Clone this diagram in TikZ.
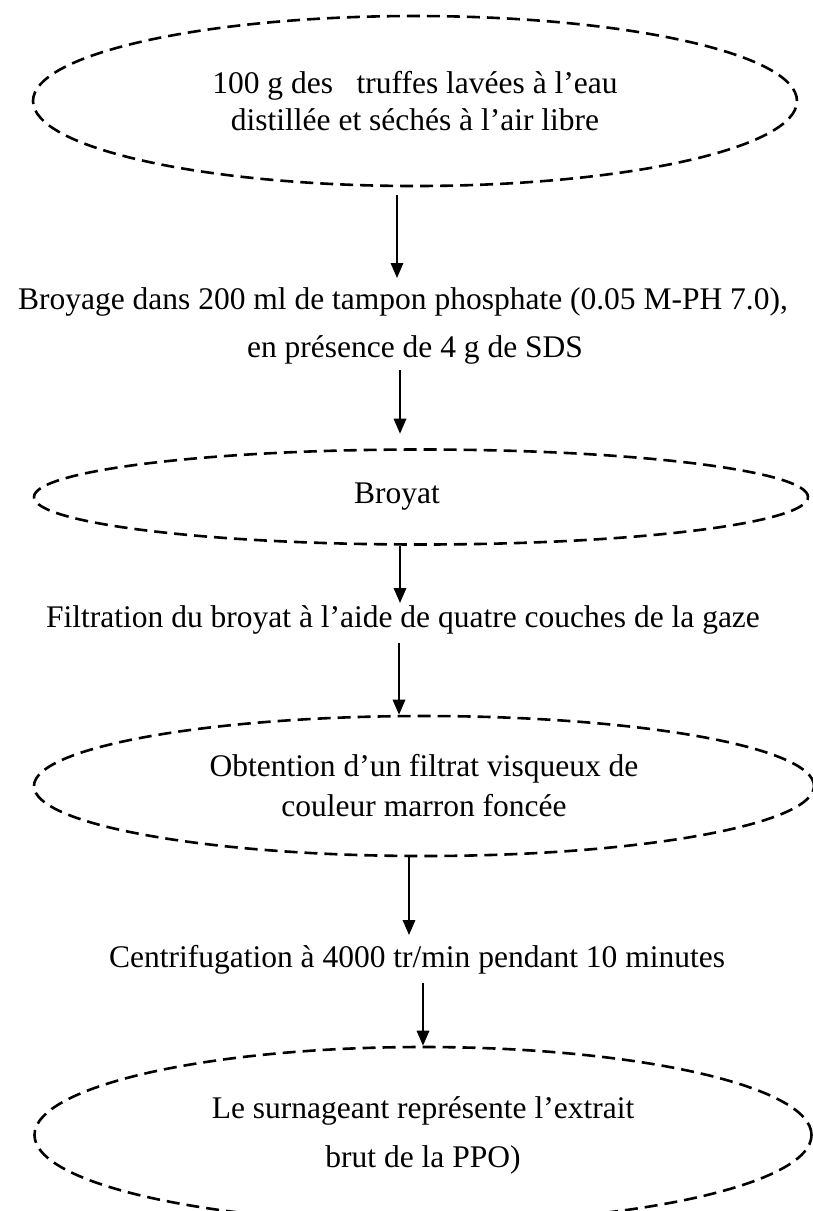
\documentclass[tikz,border=0pt]{standalone}
\usepackage{fontspec}
\setmainfont{Liberation Serif}
\usetikzlibrary{shapes.geometric,arrows.meta}
\begin{document}
\begin{tikzpicture}[x=1pt,y=-1pt,
  ell/.style={ellipse,draw,dashed,dash pattern=on 13pt off 7pt,line width=2.6pt,inner sep=0pt,align=center},
  txt/.style={inner sep=0pt,align=center},
  arr/.style={line width=1.7pt,-{Triangle[length=15pt,width=12.5pt]}},
  every node/.style={font=\fontsize{31.5}{38}\selectfont}]
\useasboundingbox (0,0) rectangle (813,1211);
\clip (0,0) rectangle (813,1211);
\node[ell,minimum width=764pt,minimum height=170pt,font=\fontsize{31.5}{37}\selectfont] (e1) at (415,101)
  {100 g des\ \ \ truffes lavées à l’eau\\distillée et séchés à l’air libre};
\node[txt] (b1) at (403,302) {Broyage dans 200 ml de tampon phosphate (0.05 M-PH 7.0),};
\node[txt] (b2) at (415,350) {en présence de 4 g de SDS};
\node[ell,minimum width=774pt,minimum height=95pt] (e2) at (421,497) {};
\node[txt] (t2) at (397,497) {Broyat};
\node[txt] (f1) at (403,620) {Filtration du broyat à l’aide de quatre couches de la gaze};
\node[ell,minimum width=780pt,minimum height=140pt,font=\fontsize{31.5}{40}\selectfont] (e3) at (424,786)
  {Obtention d’un filtrat visqueux de\\couleur marron foncée};
\node[txt] (c1) at (417,960) {Centrifugation à 4000 tr/min pendant 10 minutes};
\node[ell,minimum width=777pt,minimum height=176pt,font=\fontsize{31.5}{49}\selectfont] (e4) at (423,1135)
  {Le surnageant représente l’extrait\\brut de la PPO)};
\draw[arr] ([xshift=-18pt,yshift=-8pt]e1.south) -- ([xshift=-6pt,yshift=24pt]b1.center);
\draw[arr] ([xshift=-15pt,yshift=-20pt]b2.center) -- ([xshift=-21pt,yshift=14.5pt]e2.north);
\draw[arr] ([xshift=-21pt]e2.south) -- ([xshift=-3pt,yshift=17pt]f1.center);
\draw[arr] ([xshift=-4pt,yshift=-23pt]f1.center) -- ([xshift=-25pt]e3.north);
\draw[arr] ([xshift=-15pt]e3.south) -- ([xshift=-8pt,yshift=25pt]c1.center);
\draw[arr] ([xshift=6pt,yshift=-23pt]c1.center) -- (e4.north);
\end{tikzpicture}
\end{document}
